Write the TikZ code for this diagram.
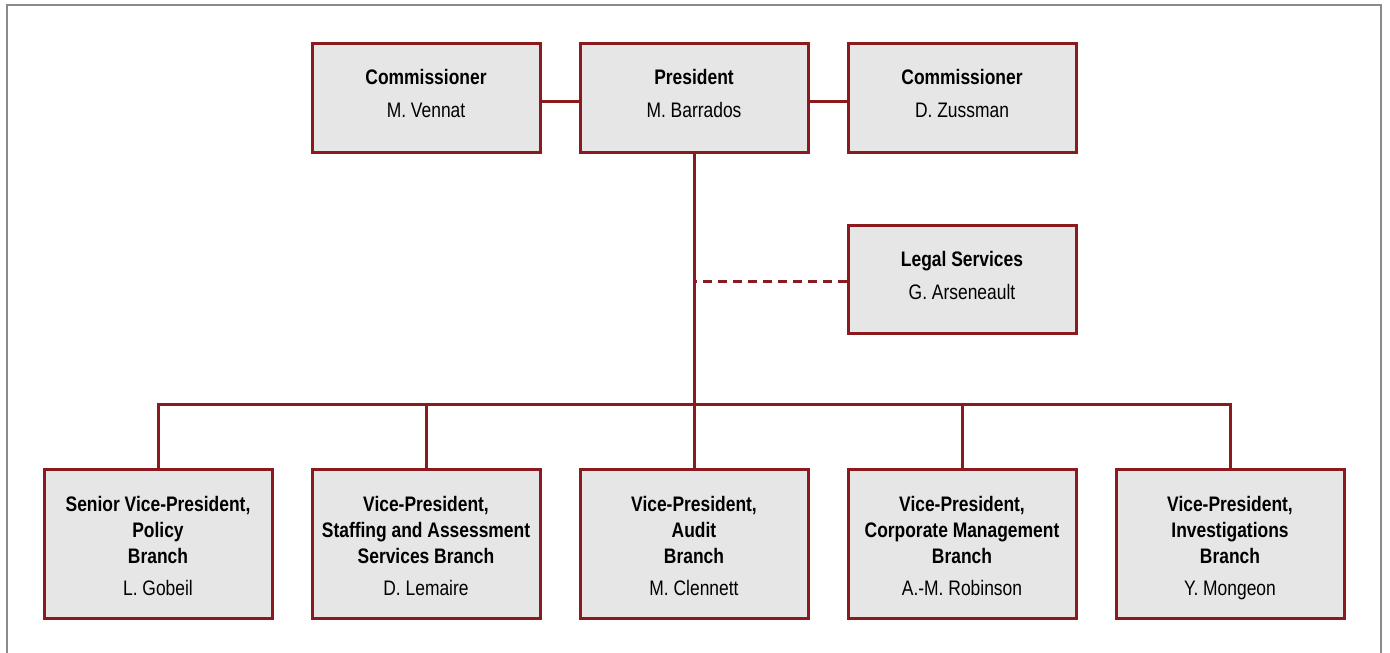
\documentclass[tikz,border=0pt]{standalone}
\usepackage{fontspec}
\setmainfont{Liberation Sans}[FakeStretch=0.83]
\usepackage{xcolor}
\definecolor{orgred}{HTML}{8B1A1F}
\definecolor{orgfill}{HTML}{E6E6E6}
\definecolor{framegray}{HTML}{8A8A8A}
% Extra head room so the branch text sits a little low in its box.
\newcommand{\branchpad}{\rule{0pt}{27pt}}

\begin{document}
\begin{tikzpicture}[x=1pt, y=-1pt,
    font=\fontsize{21}{26}\selectfont,
    unit/.style={draw=orgred, line width=3pt, fill=orgfill, align=center,
      minimum width=228pt, inner sep=0pt},
    topunit/.style={unit, minimum height=109pt},
    branch/.style={unit, minimum height=149pt},
    orgline/.style={draw=orgred, line width=3pt},
    advisory/.style={orgline, dash pattern=on 9pt off 6pt}]
  \useasboundingbox (0,0) rectangle (1390,653);
  % Page frame, open at the bottom.
  \draw[framegray, line width=2pt] (6.5,660) -- (6.5,5) -- (1381,5) -- (1381,660);
  % Executive row.
  \node[topunit] (comVennat)  at (426,97.5) {\textbf{Commissioner}\\[7pt] M. Vennat\strut};
  \node[topunit] (president)  at (694,97.5) {\textbf{President}\\[7pt] M. Barrados\strut};
  \node[topunit] (comZussman) at (962,97.5) {\textbf{Commissioner}\\[7pt] D. Zussman\strut};
  % Advisory unit, tied to the main line by a dashed link.
  \node[unit, minimum height=108pt] (legal) at (962,279)
    {\textbf{Legal Services}\\[7pt] G. Arseneault\strut};
  % Branches.
  \node[branch] (vpPolicy)         at (158,543.5)
    {\branchpad\textbf{Senior Vice-President,}\\ \textbf{Policy}\\ \textbf{Branch}\\[6pt] L. Gobeil\strut};
  \node[branch] (vpStaffing)       at (426,543.5)
    {\branchpad\textbf{Vice-President,}\\ \textbf{Staffing and Assessment}\\ \textbf{Services Branch}\\[6pt] D. Lemaire\strut};
  \node[branch] (vpAudit)          at (694,543.5)
    {\branchpad\textbf{Vice-President,}\\ \textbf{Audit}\\ \textbf{Branch}\\[6pt] M. Clennett\strut};
  \node[branch] (vpCorporate)      at (962,543.5)
    {\branchpad\textbf{Vice-President,}\\ \textbf{Corporate Management}\\ \textbf{Branch}\\[6pt] A.-M. Robinson\strut};
  \node[branch] (vpInvestigations) at (1230,543.5)
    {\branchpad\textbf{Vice-President,}\\ \textbf{Investigations}\\ \textbf{Branch}\\[6pt] Y. Mongeon\strut};
  % Links between the executives.
  \draw[orgline] ([yshift=-4pt]comVennat.east) -- ([yshift=-4pt]president.west);
  \draw[orgline] ([yshift=-4pt]president.east) -- ([yshift=-4pt]comZussman.west);
  % Main line down to the branch bus.
  \coordinate (bus) at (694,404);
  \draw[orgline] (president.south) -- (vpAudit.north);
  \draw[advisory] ([yshift=-2pt]legal.west) -- ([yshift=-2pt]legal.west -| president.south);
  \draw[orgline] (vpPolicy.north) |- (bus) -| (vpInvestigations.north);
  \foreach \b in {vpStaffing, vpCorporate} {
    \draw[orgline] (\b.north) -- (\b.north |- bus);
  }
\end{tikzpicture}
\end{document}
